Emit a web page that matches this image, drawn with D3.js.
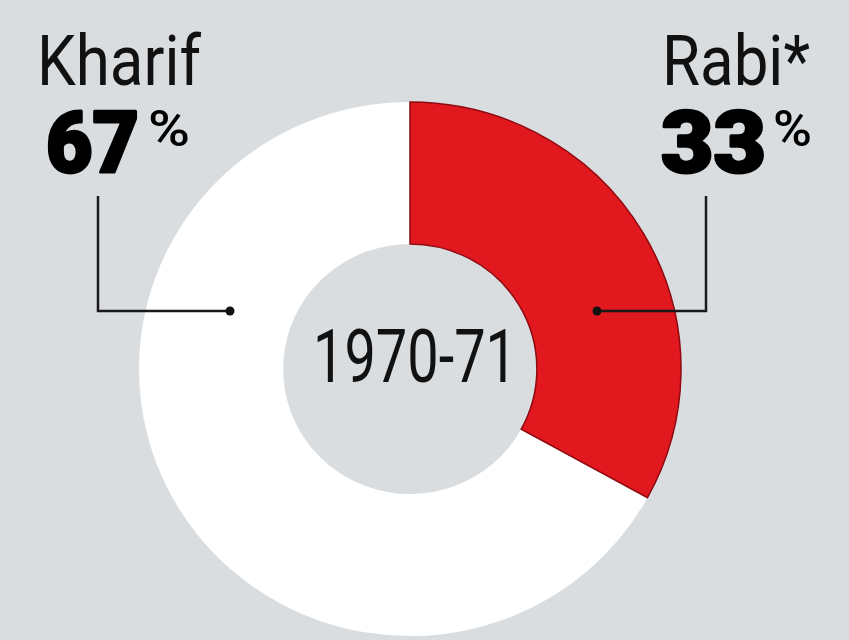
<!DOCTYPE html>
<html>
<head>
<meta charset="utf-8">
<script src="https://cdn.jsdelivr.net/npm/d3@7"></script>
<style>
  html, body { margin: 0; padding: 0; background: #dadde0; }
  svg { display: block; }
</style>
</head>
<body>
<svg id="chart" width="849" height="640"></svg>
<script>
// ---- data ----
const categories = ["Rabi*", "Kharif"];
const values = [33, 67];
const percentLabels = ["33", "67"];
const centerLabel = "1970-71";

// ---- layout ----
const W = 849, H = 640;
const cx = 410, cy = 369;
const outerR = 267, innerR = 125;
const colors = { "Rabi*": "#e2181f", "Kharif": "#ffffff" };
const strokes = { "Rabi*": "#8e0a10", "Kharif": "none" };

const svg = d3.select("#chart");
svg.append("rect").attr("width", W).attr("height", H).attr("fill", "#dadde0");

const pie = d3.pie().sort(null).value(d => d.value).startAngle(0).endAngle(2 * Math.PI);
const data = categories.map((c, i) => ({ cat: c, value: values[i], label: percentLabels[i] }));
const arcs = pie(data);
const arc = d3.arc().innerRadius(innerR).outerRadius(outerR);

const g = svg.append("g").attr("transform", `translate(${cx},${cy}) scale(1.015,1)`);
// draw white first, then red on top
g.selectAll("path.slice")
  .data(arcs.slice().reverse())
  .join("path")
  .attr("class", "slice")
  .attr("d", arc)
  .attr("fill", d => colors[d.data.cat])
  .attr("stroke", d => strokes[d.data.cat])
  .attr("stroke-width", 1.5);

// center label
svg.append("text")
  .attr("x", 313).attr("y", 382)
  .attr("textLength", 204).attr("lengthAdjust", "spacingAndGlyphs")
  .attr("font-family", "Roboto, 'Noto Sans', sans-serif")
  .attr("font-size", 75)
  .attr("fill", "#111")
  .text(centerLabel);

// annotations
const leaderY = 311;
const ann = [
  { cat: "Kharif", nameX: 37, nameW: 164, numX: 46, numW: 93, pctX: 148, pctW: 42, vx: 98, dotX: 230 },
  { cat: "Rabi*", nameX: 662, nameW: 148, numX: 661, numW: 105, pctX: 773, pctW: 39, vx: 706, dotX: 597 }
];

ann.forEach(a => {
  const d = data.find(x => x.cat === a.cat);
  svg.append("text")
    .attr("x", a.nameX).attr("y", 85)
    .attr("textLength", a.nameW).attr("lengthAdjust", "spacingAndGlyphs")
    .attr("font-family", "Roboto, 'Noto Sans', sans-serif")
    .attr("font-size", 70)
    .attr("fill", "#111")
    .text(d.cat);
  svg.append("text")
    .attr("x", a.numX).attr("y", 172)
    .attr("textLength", a.numW).attr("lengthAdjust", "spacingAndGlyphs")
    .attr("font-family", "Roboto, Lato, sans-serif")
    .attr("font-weight", 900)
    .attr("font-size", 86)
    .attr("fill", "#000")
    .attr("stroke", "#000")
    .attr("stroke-width", 3)
    .attr("stroke-linejoin", "round")
    .text(d.label);
  svg.append("text")
    .attr("x", a.pctX).attr("y", 146)
    .attr("textLength", a.pctW).attr("lengthAdjust", "spacingAndGlyphs")
    .attr("font-family", "Roboto, sans-serif")
    .attr("font-weight", 500)
    .attr("font-size", 50)
    .attr("fill", "#000")
    .text("%");
  svg.append("path")
    .attr("d", `M${a.vx},196 L${a.vx},${leaderY} L${a.dotX},${leaderY}`)
    .attr("fill", "none")
    .attr("stroke", "#1a1a1a")
    .attr("stroke-width", 2.5);
  svg.append("circle")
    .attr("cx", a.dotX).attr("cy", leaderY).attr("r", 4.5)
    .attr("fill", "#111");
});
</script>
</body>
</html>
